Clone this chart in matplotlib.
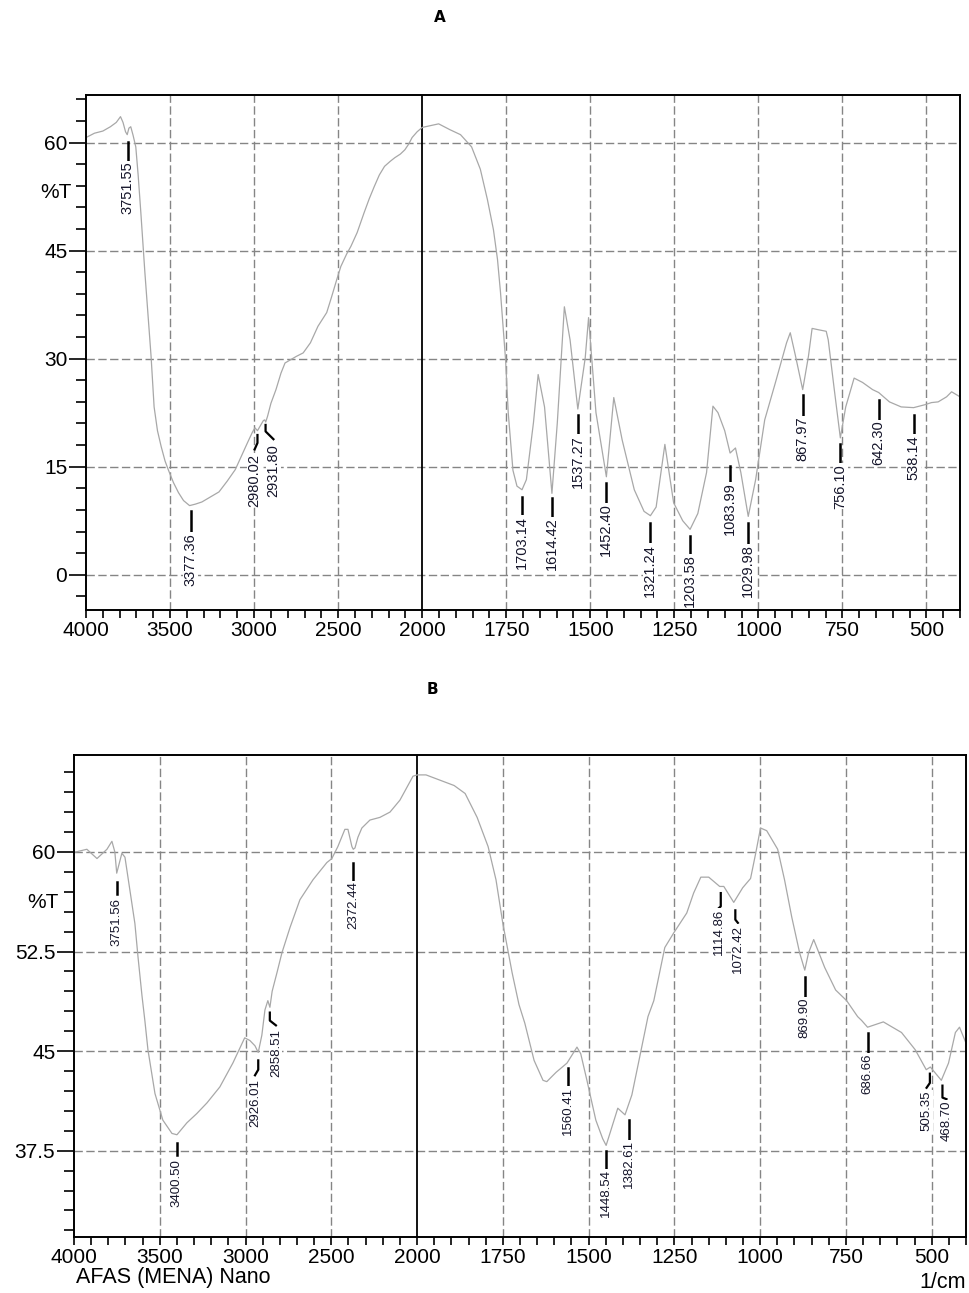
import numpy as np
import matplotlib
matplotlib.use("Agg")
import matplotlib.pyplot as plt
from matplotlib.ticker import FixedLocator, FuncFormatter

# ---- panel A spectrum (wavenumber 1/cm, %T)
wn_a = [4000, 3950, 3900, 3855, 3820, 3795, 3780, 3765, 3755, 3745, 3734, 3720,
        3704, 3690, 3674, 3650, 3632, 3613, 3595, 3575, 3553, 3530, 3511, 3480,
        3450, 3420, 3384, 3350, 3311, 3260, 3209, 3160, 3112, 3075, 3040, 3010,
        2995, 2980, 2965, 2945, 2937, 2931, 2920, 2900, 2870, 2840, 2816, 2780,
        2750, 2708, 2665, 2620, 2568, 2540, 2508, 2484, 2450, 2424, 2387, 2345,
        2315, 2285, 2255, 2224, 2190, 2163, 2130, 2103, 2080, 2060, 2030, 2000,
        1951, 1918, 1886, 1853, 1827, 1806, 1788, 1776, 1767, 1758, 1752, 1744,
        1730, 1718, 1703, 1690, 1669, 1655, 1636, 1614, 1598, 1586, 1577, 1560,
        1537, 1515, 1505, 1483, 1452, 1430, 1405, 1369, 1340, 1321, 1304, 1278,
        1252, 1225, 1203, 1180, 1154, 1135, 1120, 1100, 1084, 1068, 1052, 1030,
        1008, 981, 949, 916, 905, 890, 868, 851, 840, 820, 798, 792, 774, 756,
        740, 715, 690, 660, 642, 610, 575, 538, 505, 485, 465, 440, 425, 400]
t_a = [60.7, 61.3, 61.6, 62.2, 62.8, 63.6, 62.8, 61.5, 61.1, 62.0, 62.2, 61.0,
       59.4, 55.5, 50.3, 42.0, 36.4, 30.3, 23.3, 20.0, 17.8, 15.8, 14.6, 12.8,
       11.4, 10.3, 9.6, 9.8, 10.1, 10.8, 11.5, 13.0, 14.6, 16.5, 18.3, 19.8,
       20.4, 20.0, 20.6, 21.4, 21.5, 21.2, 22.0, 23.8, 25.7, 28.0, 29.4, 29.9,
       30.3, 30.8, 32.2, 34.5, 36.4, 38.5, 41.0, 42.8, 44.5, 45.6, 47.5, 50.3,
       52.2, 53.9, 55.5, 56.7, 57.4, 57.9, 58.4, 59.0, 59.8, 60.7, 61.5, 62.1,
       62.6, 61.8, 61.1, 59.4, 56.3, 52.1, 47.9, 43.8, 39.2, 33.6, 29.9, 22.5,
       14.5, 12.3, 11.8, 13.2, 21.1, 27.8, 23.3, 11.3, 21.1, 30.3, 37.2, 32.6,
       23.0, 30.1, 35.7, 22.5, 13.6, 24.6, 18.7, 11.8, 8.8, 8.2, 9.4, 18.1,
       10.0, 7.5, 6.3, 8.5, 14.2, 23.4, 22.5, 20.0, 16.9, 17.6, 14.2, 8.1,
       13.2, 21.5, 26.7, 32.2, 33.6, 30.5, 25.7, 30.3, 34.2, 34.0, 33.8, 32.6,
       25.7, 19.0, 23.3, 27.3, 26.7, 25.7, 25.3, 24.0, 23.3, 23.2, 23.6, 23.9,
       24.0, 24.7, 25.4, 24.7]

# ---- panel B spectrum
wn_b = [4000, 3989, 3925, 3866, 3808, 3779, 3762, 3751, 3721, 3703, 3674, 3645,
        3627, 3604, 3587, 3569, 3528, 3482, 3429, 3400, 3342, 3284, 3225, 3150,
        3074, 3005, 2975, 2945, 2926, 2905, 2887, 2870, 2858, 2845, 2817, 2788,
        2741, 2683, 2607, 2526, 2497, 2462, 2421, 2403, 2380, 2372, 2362, 2345,
        2322, 2275, 2217, 2158, 2100, 2024, 2000, 1974, 1892, 1860, 1825, 1793,
        1770, 1750, 1723, 1703, 1686, 1659, 1633, 1622, 1595, 1563, 1534, 1523,
        1505, 1479, 1459, 1449, 1438, 1415, 1394, 1374, 1354, 1327, 1310, 1278,
        1252, 1214, 1194, 1173, 1150, 1118, 1106, 1077, 1051, 1028, 1013, 999,
        981, 949, 929, 908, 885, 870, 859, 844, 812, 780, 760, 748, 716, 704,
        687, 641, 588, 548, 516, 504, 472, 451, 431, 419, 400]
t_b = [60.0, 60.0, 60.2, 59.5, 60.2, 60.8, 60.0, 58.4, 59.9, 59.6, 57.1, 54.6,
       52.1, 49.2, 47.3, 45.1, 41.8, 39.8, 38.8, 38.7, 39.6, 40.3, 41.1, 42.3,
       44.1, 46.0, 45.8, 45.4, 44.9, 46.2, 48.1, 48.8, 48.3, 49.5, 50.9, 52.4,
       54.3, 56.4, 57.9, 59.2, 59.5, 60.4, 61.7, 61.7, 60.4, 60.2, 60.3, 61.1,
       61.8, 62.4, 62.6, 63.0, 63.9, 65.7, 65.8, 65.8, 65.0, 64.4, 62.6, 60.4,
       57.9, 54.6, 50.9, 48.5, 47.1, 44.3, 42.8, 42.7, 43.4, 44.1, 45.3, 44.8,
       42.8, 39.8, 38.4, 37.9, 38.8, 40.7, 40.2, 41.7, 44.2, 47.6, 48.8, 52.8,
       53.9, 55.4, 56.9, 58.1, 58.1, 57.4, 57.4, 56.2, 57.3, 58.0, 59.9, 61.8,
       61.6, 60.2, 57.9, 55.1, 52.4, 51.1, 52.4, 53.4, 51.3, 49.6, 49.1, 48.8,
       47.6, 47.3, 46.8, 47.2, 46.4, 45.1, 43.6, 43.8, 42.8, 44.1, 46.4, 46.8,
       45.6]

# ---- peak labels
peaks_a = ["3751.55", "3377.36", "2980.02", "2931.80", "1703.14", "1614.42",
           "1537.27", "1452.40", "1321.24", "1203.58", "1083.99", "1029.98",
           "867.97", "756.10", "642.30", "538.14"]
peaks_b = ["3751.56", "3400.50", "2926.01", "2858.51", "2372.44", "1560.41",
           "1448.54", "1382.61", "1114.86", "1072.42", "869.90", "686.66",
           "505.35", "468.70"]

# leader placement: (line top, bend y, text wavenumber, text top)
place_a = [(60.1, 57.6, None, 57.4), (8.8, 6.0, None, 5.8),
           (19.4, 18.3, 2997, 16.8), (20.8, 19.9, 2885, 18.1),
           (10.8, 8.3, None, 8.2), (10.6, 8.1, None, 8.0),
           (22.2, 19.6, None, 19.4), (12.8, 10.0, None, 9.9),
           (7.2, 4.4, None, 4.3), (5.4, 3.0, None, 2.8),
           (15.1, 12.9, None, 12.8), (7.2, 4.4, None, 4.2),
           (24.9, 22.1, None, 22.0), (18.2, 15.6, None, 15.4),
           (24.2, 21.5, None, 21.4), (22.2, 19.6, None, 19.4)]
place_b = [(57.7, 56.8, None, 56.5), (38.1, 37.2, None, 36.9),
           (44.3, 43.6, 2945, 42.9), (47.9, 47.3, 2823, 46.7),
           (59.2, 57.9, None, 57.8), (43.7, 42.4, None, 42.3),
           (37.5, 36.2, None, 36.1), (39.8, 38.4, None, 38.3),
           (56.9, 55.9, 1120, 55.7), (55.6, 54.9, 1065, 54.5),
           (50.6, 49.1, None, 49.0), (46.4, 44.9, None, 44.8),
           (43.3, 42.6, 515, 42.0), (42.4, 41.5, 457, 41.3)]

x_major = [4000, 3500, 3000, 2500, 2000, 1750, 1500, 1250, 1000, 750, 500]


def fwd(x):
    x = np.asarray(x, dtype=float)
    return np.where(x > 2000, 2000 + (x - 2000) / 2, x)


def inv(p):
    p = np.asarray(p, dtype=float)
    return np.where(p > 2000, 2000 + (p - 2000) * 2, p)


plt.rcParams['font.family'] = ['Liberation Sans', 'DejaVu Sans']

fig = plt.figure(figsize=(9.7, 12.93), dpi=100)
ax_a = fig.add_axes([0.0887, 0.5282, 0.9010, 0.3983])
ax_b = fig.add_axes([0.0763, 0.0433, 0.9196, 0.3728])

grid_kw = dict(color='#858585', lw=1.0, ls=(0, (6, 2.5)), zorder=1)


def setup(ax, ylim, ymaj, ymin, ylabels, ty):
    ax.set_xscale('function', functions=(fwd, inv))
    ax.set_xlim(4000, 400)
    ax.set_ylim(*ylim)
    minor = list(range(3900, 2000, -100)) + list(range(1950, 399, -50))
    ax.xaxis.set_major_locator(FixedLocator(x_major))
    ax.xaxis.set_minor_locator(FixedLocator([m for m in minor if m not in x_major]))
    ax.xaxis.set_major_formatter(FuncFormatter(lambda v, p: f"{v:.0f}"))
    ax.yaxis.set_major_locator(FixedLocator(ymaj))
    ax.yaxis.set_minor_locator(FixedLocator(ymin))
    ax.set_yticklabels(ylabels)
    ax.tick_params(axis='x', which='both', length=6, width=1.2, direction='out',
                   labelsize=15, pad=2)
    ax.tick_params(axis='y', which='major', length=12, width=1.2, direction='out',
                   labelsize=15, pad=1.5)
    ax.tick_params(axis='y', which='minor', length=7, width=1.2, direction='out')
    for s in ax.spines.values():
        s.set_linewidth(1.4)
    for v in x_major[1:]:
        if v == 2000:
            ax.axvline(v, color='black', lw=1.3, zorder=1.5)
        else:
            ax.axvline(v, **grid_kw)
    for v in ymaj:
        ax.axhline(v, **grid_kw)
    ax.text(-0.017, ty, "%T", transform=ax.get_yaxis_transform(), ha='right',
            va='center', fontsize=15)


def label_peaks(ax, names, places, fs):
    for name, (y0, y1, wt, yt) in zip(names, places):
        w = float(name)
        if wt is None:
            ax.plot([w, w], [y0, y1], color='black', lw=1.8, zorder=3)
            wt = w
        else:
            yb = y1 - (y1 - yt) * 0.6
            ax.plot([w, w, wt], [y0, y1, yb], color='black', lw=1.6, zorder=3)
        ax.text(wt, yt, name, rotation=90, ha='center', va='top', fontsize=fs,
                color='#15152a', zorder=4,
                bbox=dict(facecolor='white', edgecolor='none', pad=0.4))


setup(ax_a, (-4.9, 66.6), [0, 15, 30, 45, 60], np.arange(-3, 67, 3),
      ["0", "15", "30", "45", "60"], 53.0)
setup(ax_b, (31.0, 67.3), [37.5, 45, 52.5, 60], np.arange(31.5, 67, 1.5),
      ["37.5", "45", "52.5", "60"], 56.2)

ax_a.plot(wn_a, t_a, color='#a8a8a8', lw=0.9, zorder=2)
ax_b.plot(wn_b, t_b, color='#a8a8a8', lw=0.9, zorder=2)

label_peaks(ax_a, peaks_a, place_a, 10.5)
label_peaks(ax_b, peaks_b, place_b, 9.5)

fig.text(440 / 970, 1 - 18 / 1293, "A", ha='center', va='center', fontsize=11,
         fontweight='bold', family='DejaVu Sans')
fig.text(432 / 970, 1 - 690 / 1293, "B", ha='center', va='center', fontsize=11,
         fontweight='bold', family='DejaVu Sans')
fig.text(76 / 970, 1 - 1278 / 1293, "AFAS (MENA) Nano", ha='left', va='center',
         fontsize=15.5)
fig.text(966 / 970, 1 - 1283 / 1293, "1/cm", ha='right', va='center',
         fontsize=15.5)

fig.savefig("out.png", dpi=100)
